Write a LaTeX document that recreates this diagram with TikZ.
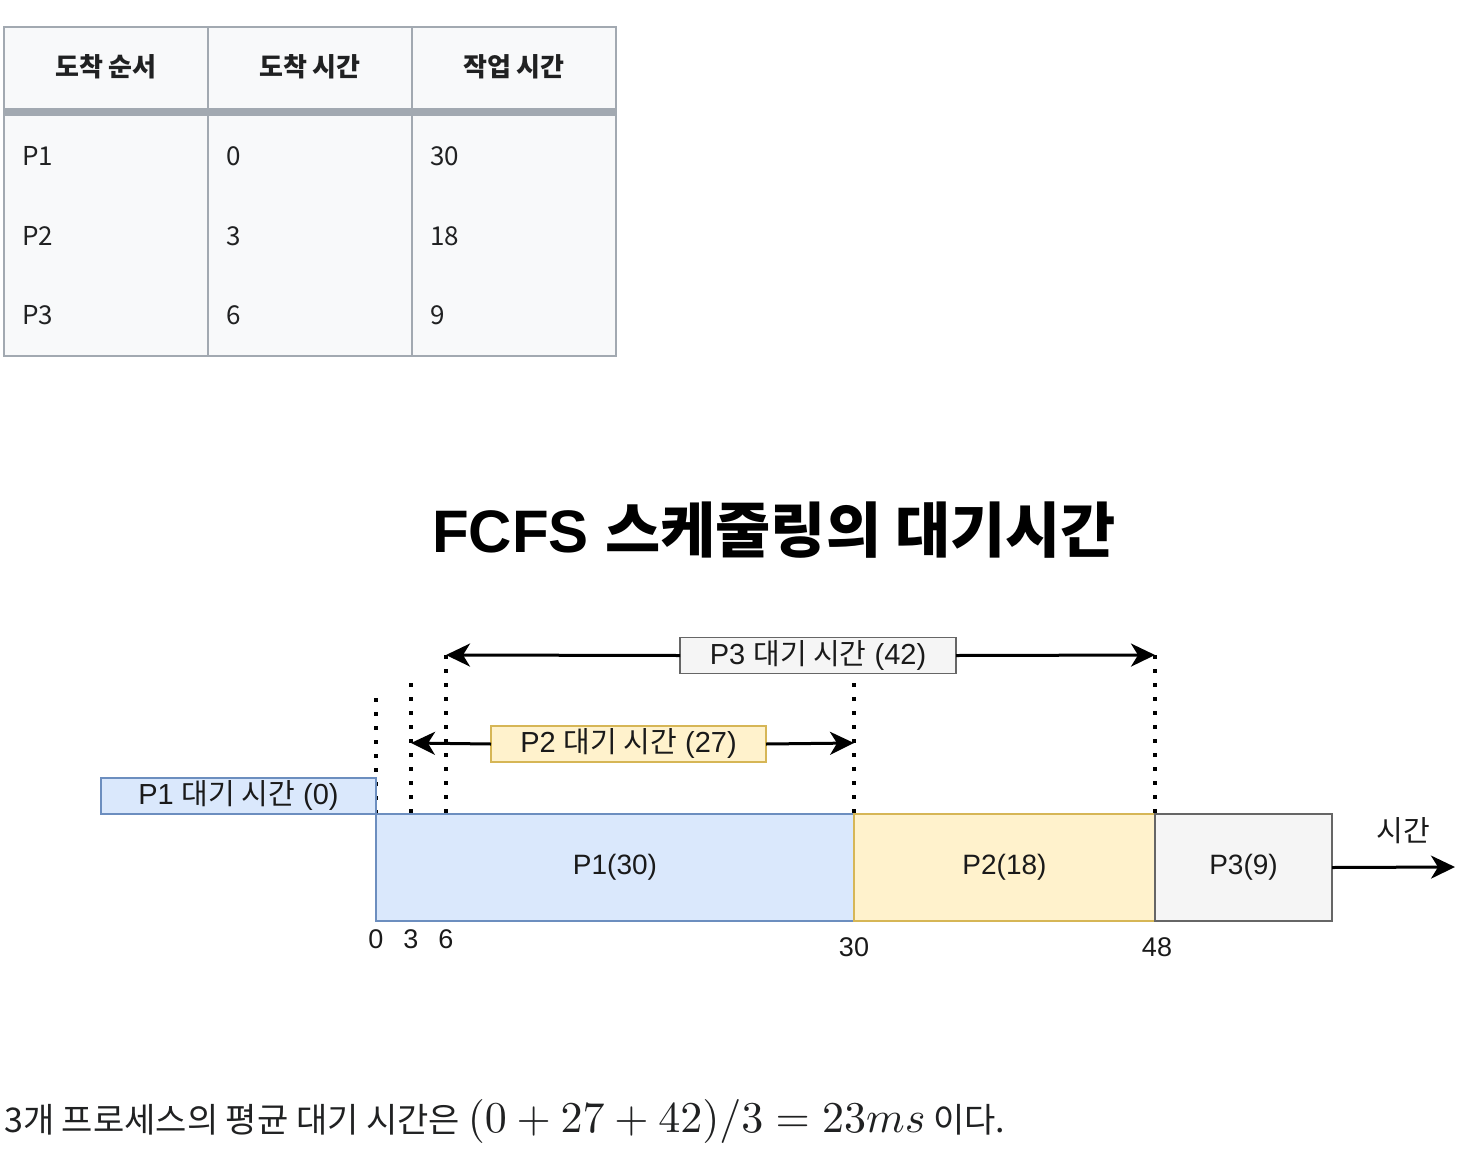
\documentclass[tikz,border=0pt]{standalone}
\usepackage{fontspec}
\setmainfont{Liberation Sans}
\newfontfamily\kr{Noto Sans CJK KR}
\usetikzlibrary{arrows.meta}
\definecolor{tblborder}{HTML}{A2A9B1}
\definecolor{tblfill}{HTML}{F8F9FA}
\definecolor{tbltext}{HTML}{202122}
\definecolor{bluefill}{HTML}{DAE8FC}
\definecolor{bluedraw}{HTML}{6C8EBF}
\definecolor{yelfill}{HTML}{FFF2CC}
\definecolor{yeldraw}{HTML}{D6B656}
\definecolor{greyfill}{HTML}{F5F5F5}
\definecolor{greydraw}{HTML}{666666}
\definecolor{ink}{HTML}{1A1A1A}
\begin{document}
\begin{tikzpicture}[x=1pt,y=-1pt,
  tcell/.style={font=\kr\fontsize{26}{30}\selectfont, text=tbltext, inner sep=0pt},
  thead/.style={font=\kr\bfseries\fontsize{26}{30}\selectfont, text=tbltext, inner sep=0pt},
  lbl/.style={font=\fontsize{28}{32}\selectfont, text=ink, inner sep=0pt},
  gbox/.style={draw, line width=1.6pt, font=\fontsize{28}{32}\selectfont, text=ink, inner sep=0pt, outer sep=0pt, anchor=north west},
  wbox/.style={draw, line width=1.6pt, font=\fontsize{29}{33}\selectfont, text=ink, inner sep=0pt, outer sep=0pt, minimum height=36pt},
  dots/.style={line width=3.5pt, dash pattern=on 3.5pt off 10.5pt, black},
  arr/.style={line width=3pt, black, -{Stealth[length=24pt,width=23pt,inset=7pt]}}
]
\fill[white] (0,0) rectangle (1470,1162);
\useasboundingbox (0,0) rectangle (1470,1162);

% ---------- table ----------
\fill[tblfill] (4,27) rectangle (616,356);
\fill[tblborder] (4,108) rectangle (616,116);
\draw[tblborder, line width=2pt] (4,27) rectangle (616,356);
\draw[tblborder, line width=2pt] (208,27) -- (208,356) (412,27) -- (412,356);

\node[thead] (h1) at (106,67) {도착 순서};
\node[thead] (h2) at (310,67) {도착 시간};
\node[thead] (h3) at (514,67) {작업 시간};

\node[tcell, anchor=west] (r1a) at (22,156) {P1};
\node[tcell, anchor=west] (r1b) at (226,156) {0};
\node[tcell, anchor=west] (r1c) at (430,156) {30};
\node[tcell, anchor=west] (r2a) at (22,236) {P2};
\node[tcell, anchor=west] (r2b) at (226,236) {3};
\node[tcell, anchor=west] (r2c) at (430,236) {18};
\node[tcell, anchor=west] (r3a) at (22,315) {P3};
\node[tcell, anchor=west] (r3b) at (226,315) {6};
\node[tcell, anchor=west] (r3c) at (430,315) {9};

% ---------- title ----------
\node[inner sep=0pt, text=black] (title) at (774,530)
  {\fontsize{60}{64}\selectfont\bfseries FCFS {\kr 스케줄링의 대기시간}};

% ---------- coordinates ----------
\coordinate (d0t) at (376,698);
\coordinate (d3t) at (411,683);
\coordinate (d6t) at (446,655);
\coordinate (d30t) at (854,683);
\coordinate (d48t) at (1155,655);
\coordinate (d3b) at (411,814);
\coordinate (d6b) at (446,814);
\coordinate (a3) at (411,743);
\coordinate (a30) at (854,743);
\coordinate (b6) at (446,655);
\coordinate (b48) at (1155,655);
\coordinate (tend) at (1455,867);

% ---------- dotted guide lines ----------
\draw[dots] (d0t) -- (376,814);
\draw[dots] (d3t) -- (d3b);
\draw[dots] (d6t) -- (d6b);
\draw[dots] (d30t) -- (854,814);
\draw[dots] (d48t) -- (1155,814);

% ---------- gantt boxes ----------
\node[gbox, fill=bluefill, draw=bluedraw, minimum width=478pt, minimum height=107pt] (p1) at (376,814) {P1(30)};
\node[gbox, fill=yelfill, draw=yeldraw, minimum width=301pt, minimum height=107pt] (p2) at (p1.north east) {P2(18)};
\node[gbox, fill=greyfill, draw=greydraw, minimum width=177pt, minimum height=107pt] (p3) at (p2.north east) {P3(9)};

% ---------- waiting-time boxes ----------
\node[wbox, fill=bluefill, draw=bluedraw, minimum width=275pt, anchor=south east] (p1w) at (p1.north west) {P1 {\kr 대기 시간} (0)};
\node[wbox, fill=yelfill, draw=yeldraw, minimum width=275pt] (p2w) at (628.5,744) {P2 {\kr 대기 시간} (27)};
\node[wbox, fill=greyfill, draw=greydraw, minimum width=276pt] (p3w) at (818,655.5) {P3 {\kr 대기 시간} (42)};

% ---------- arrows ----------
\draw[arr] (p2w.west) -- (a3);
\draw[arr] (p2w.east) -- (a30);
\draw[arr] (p3w.west) -- (b6);
\draw[arr] (p3w.east) -- (b48);
\draw[arr] (p3.east) -- (tend);

% ---------- tick labels ----------
\node[lbl, font=\fontsize{27}{30}\selectfont] (t0) at (376,939) {0};
\node[lbl, font=\fontsize{27}{30}\selectfont] (t3) at (411,939) {3};
\node[lbl, font=\fontsize{27}{30}\selectfont] (t6) at (446,939) {6};
\node[lbl, font=\fontsize{27}{30}\selectfont] (t30) at (854,947) {30};
\node[lbl, font=\fontsize{27}{30}\selectfont] (t48) at (1157,947) {48};
\node[lbl, font=\kr\fontsize{29}{33}\selectfont] (tlabel) at (1403,831) {시간};

% ---------- bottom sentence ----------
\node[anchor=base west, inner sep=0pt, text=tbltext] (avg) at (4,1132)
  {{\kr\fontsize{34}{38}\selectfont 3개 프로세스의 평균 대기 시간은 }\scalebox{4.4}{$(0+27+42)/3=23ms$}{\kr\fontsize{34}{38}\selectfont{} 이다.}};
\end{tikzpicture}
\end{document}
